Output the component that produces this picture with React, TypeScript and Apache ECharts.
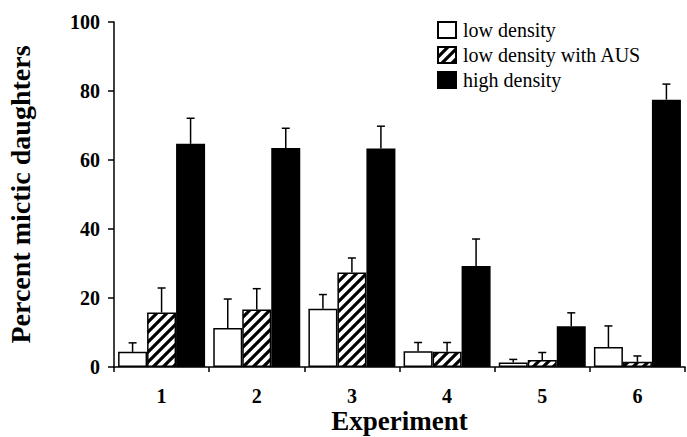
import React, { useEffect, useRef } from "react";
import * as echarts from "echarts";

const categories = ["1", "2", "3", "4", "5", "6"];
const seriesNames = ["low density", "low density with AUS", "high density"];
const lowDensity = [4.4, 11.3, 16.9, 4.6, 1.3, 5.8];
const lowDensityErrTop = [7.0, 19.7, 21.0, 7.1, 2.2, 11.9];
const lowAus = [15.8, 16.7, 27.4, 4.4, 2.0, 1.5];
const lowAusErrTop = [22.9, 22.7, 31.6, 7.1, 4.2, 3.2];
const highDensity = [64.7, 63.5, 63.3, 29.3, 11.8, 77.5];
const highDensityErrTop = [72.1, 69.2, 69.8, 37.1, 15.7, 82.0];
const yTicks = [0, 20, 40, 60, 80, 100];

const FONT = "'Liberation Serif', 'Times New Roman', serif";

function makeHatch(): HTMLCanvasElement {
  const c = document.createElement("canvas");
  c.width = 10;
  c.height = 10;
  const ctx = c.getContext("2d")!;
  ctx.fillStyle = "#fff";
  ctx.fillRect(0, 0, 10, 10);
  ctx.strokeStyle = "#000";
  ctx.lineWidth = 3.2;
  ctx.lineCap = "square";
  const lines = [
    [-5, 5, 5, -5],
    [0, 10, 10, 0],
    [5, 15, 15, 5],
  ];
  for (const [a, b, cc, d] of lines) {
    ctx.beginPath();
    ctx.moveTo(a, b);
    ctx.lineTo(cc, d);
    ctx.stroke();
  }
  return c;
}

export default function App() {
  const ref = useRef<HTMLDivElement>(null);
  useEffect(() => {
    if (!ref.current) return;
    const chart = echarts.init(ref.current, undefined, { renderer: "svg" });
    const hatch = { image: makeHatch(), repeat: "repeat" } as any;
    const BW = 29;

    const errSeries = (vals: number[], tops: number[], offset: number) => ({
      type: "custom",
      silent: true,
      z: 3,
      data: categories.map((_, i) => [i, vals[i], tops[i]]),
      renderItem: (params: any, api: any) => {
        const p = api.coord([api.value(0), api.value(1)]);
        const t = api.coord([api.value(0), api.value(2)]);
        const x = p[0] + offset;
        return {
          type: "group",
          children: [
            { type: "line", shape: { x1: x, y1: p[1], x2: x, y2: t[1] }, style: { stroke: "#000", lineWidth: 1.5 } },
            { type: "line", shape: { x1: x - 4, y1: t[1], x2: x + 4, y2: t[1] }, style: { stroke: "#000", lineWidth: 1.5 } },
          ],
        };
      },
    });

    chart.setOption({
      animation: false,
      backgroundColor: "#fff",
      textStyle: { fontFamily: FONT },
      grid: { left: 114, top: 22, right: 2, bottom: 70, containLabel: false, outerBoundsMode: "none" },
      legend: {
        left: 437,
        top: 20,
        orient: "vertical",
        itemWidth: 18,
        itemHeight: 16,
        itemGap: 5,
        icon: "rect",
        data: seriesNames,
        textStyle: { fontFamily: FONT, fontSize: 20, color: "#000", padding: [0, 0, 0, 2] },
        padding: 0,
      },
      xAxis: {
        type: "category",
        data: categories,
        name: "Experiment",
        nameLocation: "middle",
        nameGap: 40,
        nameMoveOverlap: false,
        nameTextStyle: { fontFamily: FONT, fontSize: 27, fontWeight: "bold", color: "#000" },
        axisLine: { lineStyle: { color: "#000", width: 1.5 } },
        axisTick: { show: true, length: 5, lineStyle: { color: "#000", width: 1.5 } },
        axisLabel: { fontFamily: FONT, fontSize: 20, fontWeight: "bold", color: "#000", margin: 19 },
      },
      yAxis: {
        type: "value",
        min: 0,
        max: 100,
        interval: 20,
        name: "Percent mictic daughters",
        nameLocation: "middle",
        nameGap: 80,
        nameMoveOverlap: false,
        nameTextStyle: { fontFamily: FONT, fontSize: 28, fontWeight: "bold", color: "#000" },
        axisLine: { show: true, lineStyle: { color: "#000", width: 1.5 } },
        axisTick: { show: true, length: 6, lineStyle: { color: "#000", width: 1.5 } },
        axisLabel: {
          fontFamily: FONT,
          fontSize: 20,
          fontWeight: "bold",
          color: "#000",
          margin: 14,
          formatter: (v: number) => (yTicks.includes(v) ? String(v) : ""),
        },
        splitLine: { show: false },
      },
      series: [
        {
          name: seriesNames[0],
          type: "bar",
          data: lowDensity,
          barWidth: BW,
          barGap: "0%",
          itemStyle: { color: "#fff", borderColor: "#000", borderWidth: 1.5 },
        },
        {
          name: seriesNames[1],
          type: "bar",
          data: lowAus,
          barWidth: BW,
          barGap: "0%",
          itemStyle: { color: hatch, borderColor: "#000", borderWidth: 1.5 },
        },
        {
          name: seriesNames[2],
          type: "bar",
          data: highDensity,
          barWidth: BW,
          barGap: "0%",
          itemStyle: { color: "#000", borderColor: "#000", borderWidth: 1.5 },
        },
        errSeries(lowDensity, lowDensityErrTop, -BW),
        errSeries(lowAus, lowAusErrTop, 0),
        errSeries(highDensity, highDensityErrTop, BW),
      ],
    } as any);
    return () => chart.dispose();
  }, []);
  return <div ref={ref} style={{ position: "fixed", left: 0, top: 0, width: 687, height: 437 }} />;
}
